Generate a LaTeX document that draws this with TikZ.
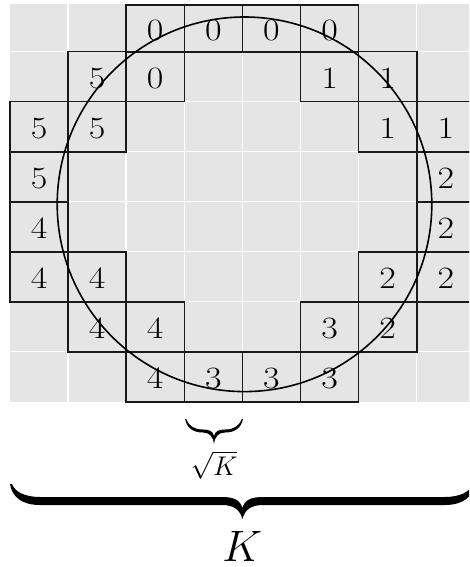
\RequirePackage{fix-cm}
\documentclass[tikz,border=0pt]{standalone}
\usepackage{graphicx}
\newcommand\sx[1]{\scalebox{1.16}[1]{#1}}
\begin{document}
\begin{tikzpicture}[x=1pt,y=-1pt,
  cellbox/.style={draw=black!90, line width=1.6pt, minimum width=58.1pt, minimum height=50pt,
    inner sep=0pt, font=\fontsize{31}{31}\selectfont, text height=24pt, text depth=0pt},
  toprow/.style={cellbox, minimum height=47.4pt},
  gridline/.style={white, line width=1.5pt},
  bracefill/.style={fill=black}]
\useasboundingbox (0,0) rectangle (469,567);
\begin{scope}
\clip (0,0) rectangle (469,567);
\fill[gray!20] (10,4.3) rectangle (476,401.7);
\foreach \c in {1,...,7} \draw[gridline] ({10+58.1*\c},4.3) -- ({10+58.1*\c},401.7);
\foreach \r in {0,...,6} \draw[gridline] (10,{51.7+50*\r}) -- (476,{51.7+50*\r});
\foreach \c/\v in {2/0,3/0,4/0,5/0}
  \node[toprow] (n0\c) at ({39.05+58.1*\c},28.5) {\sx{\v}};
\foreach \r/\c/\v in {1/1/5,1/2/0,1/5/1,1/6/1,
                      2/0/5,2/1/5,2/6/1,2/7/1,
                      3/0/5,3/7/2,
                      4/0/4,4/7/2,
                      5/0/4,5/1/4,5/6/2,5/7/2,
                      6/1/4,6/2/4,6/5/3,6/6/2,
                      7/2/4,7/3/3,7/4/3,7/5/3}
  \node[cellbox] (n\r\c) at ({39.05+58.1*\c},{26.7+50*\r}) {\sx{\v}};
\coordinate (ctr) at (244.5,204.3);
\draw[line width=1.6pt] (ctr) circle (187.3);
% big brace
\fill[bracefill] (10,484) .. controls (12,497) and (22,505) .. (40,505) -- (222,505)
  .. controls (234,505) and (240,510) .. (242.4,519)
  .. controls (244.8,510) and (250.8,505) .. (262.8,505) -- (444.8,505)
  .. controls (462.8,505) and (472.8,497) .. (474.8,484) -- (472.8,484)
  .. controls (469.8,492) and (459.8,497) .. (444.8,497) -- (262.8,497)
  .. controls (250.8,497) and (244.8,500) .. (242.4,508)
  .. controls (240,500) and (234,497) .. (222,497) -- (40,497)
  .. controls (25,497) and (15,492) .. (12,484) -- cycle;
\end{scope}
% small brace
\fill[bracefill] (185,419) .. controls (187,428) and (193,432.5) .. (203,432.5)
  .. controls (209,432.5) and (213,436) .. (214,444)
  .. controls (215,436) and (219,432.5) .. (225,432.5)
  .. controls (235,432.5) and (241,428) .. (243,419) -- (241.8,419)
  .. controls (239,426) and (234,429.5) .. (225,429.5)
  .. controls (219,429.5) and (215,431) .. (214,436)
  .. controls (213,431) and (209,429.5) .. (203,429.5)
  .. controls (194,429.5) and (189,426) .. (186.2,419) -- cycle;
\node[inner sep=0pt, font=\fontsize{27}{27}\selectfont] (sqk) at (214,465) {$\sqrt{K}$};
\node[inner sep=0pt, font=\fontsize{44}{44}\selectfont] (bigk) at (242.4,546) {$K$};
\end{tikzpicture}
\end{document}
